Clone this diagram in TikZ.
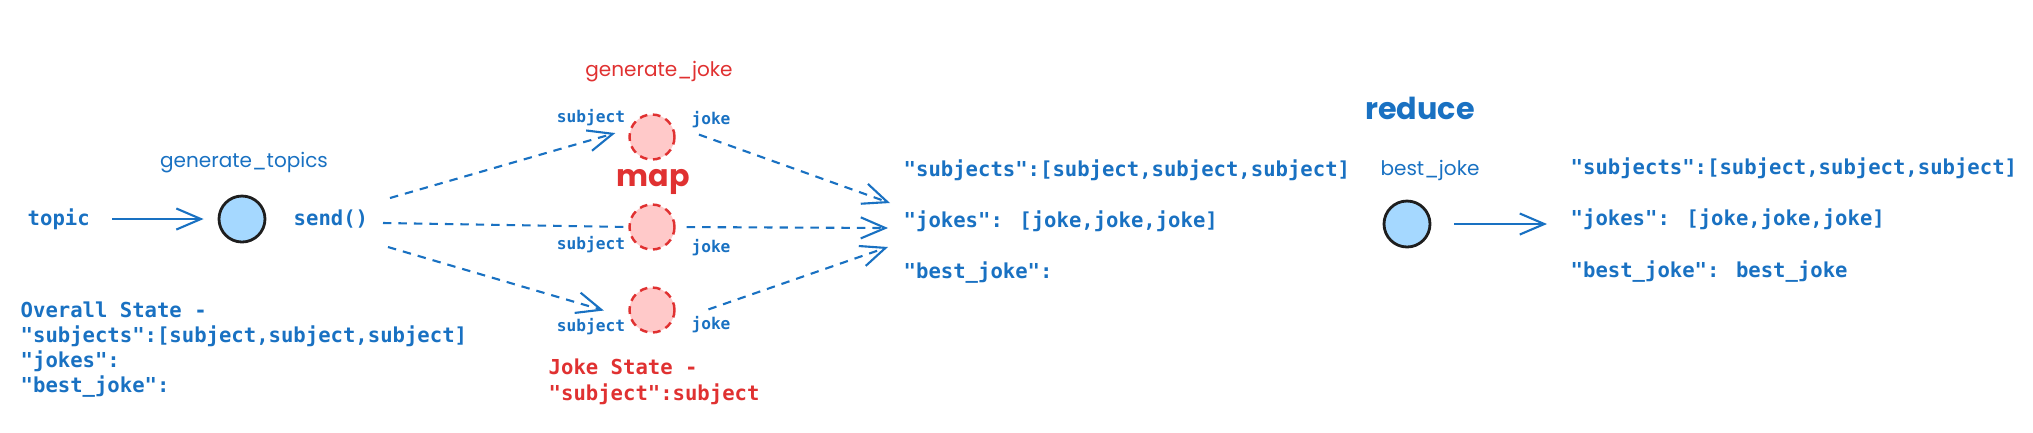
\documentclass[tikz,border=0pt]{standalone}
\usepackage{fontspec}
\newfontfamily\codefont{DejaVu Sans Mono}
\newfontfamily\handfont{Poppins}
\usetikzlibrary{arrows.meta,positioning}
\definecolor{jblue}{HTML}{1971C2}
\definecolor{jred}{HTML}{E03131}
\definecolor{nodefill}{HTML}{A5D8FF}
\definecolor{mapfill}{HTML}{FFC9C9}
\definecolor{ink}{HTML}{1E1E1E}

\begin{document}
\begin{tikzpicture}[
  code/.style={font=\codefont\bfseries\fontsize{5.86}{7.1}\selectfont, text=jblue, inner sep=0pt, anchor=west, align=left},
  tag/.style={font=\codefont\bfseries\fontsize{4.6}{5}\selectfont, text=jblue, inner sep=0pt},
  hand/.style={font=\handfont\fontsize{5.7}{7}\selectfont, inner sep=0pt},
  bighand/.style={font=\handfont\bfseries\fontsize{8.6}{10}\selectfont, inner sep=0pt},
  fn/.style={circle, draw=ink, fill=nodefill, line width=0.8pt, minimum size=0.46cm, inner sep=0pt},
  mapfn/.style={circle, draw=jred, fill=mapfill, line width=0.7pt, dash pattern=on 2.2pt off 1.6pt, minimum size=0.45cm, inner sep=0pt},
  flow/.style={draw=jblue, line width=0.6pt, -{Straight Barb[length=7pt,width=6pt]}},
  dflow/.style={flow, dash pattern=on 2.4pt off 2pt},
]
\useasboundingbox (0,0) rectangle (20.33,-4.32);

% generate topics
\node[code] (topic) at (0.27,-2.19) {topic};
\node[fn] (gen) at (2.42,-2.19) {};
\node[hand, text=jblue] (genlab) at (2.44,-1.63) {generate\_topics};
\node[code] (send) at (2.93,-2.19) {send()};
\draw[flow, shorten <=0.22cm, shorten >=0.14cm] (topic) -- (gen);
\node[code] (overall) at (0.20,-3.50) {Overall State -\\"subjects":[subject,subject,subject]\\"jokes":\\"best\_joke":};

% map step
\foreach \i/\y in {1/-1.37,2/-2.27,3/-3.10}
  \node[mapfn] (m\i) at (6.52,\y) {};
\foreach \i/\ys/\yj in {1/-1.18/-1.20,2/-2.45/-2.48,3/-3.27/-3.25}{
  \node[tag] (subj\i) at (5.91,\ys) {subject};
  \node[tag] (joke\i) at (7.11,\yj) {joke};
}
\node[hand, text=jred] (genjoke) at (6.59,-0.72) {generate\_joke};
\node[bighand, text=jred] (map) at (6.53,-1.82) {map};
\node[code, text=jred] (jstate) at (5.48,-3.815) {Joke State -\\[0.4pt]"subject":subject};

\coordinate (fan1) at (3.90,-1.98);
\coordinate (fan2) at (3.83,-2.23);
\coordinate (fan3) at (3.88,-2.47);
\draw[dflow, shorten >=0.15cm] (fan1) -- (m1.160);
\draw[dflow, -] (fan2) -- (m2.west);
\draw[dflow, shorten >=0.27cm] (fan3) -- (m3.200);

\coordinate (in1) at (8.90,-2.03);
\coordinate (in2) at (8.88,-2.28);
\coordinate (in3) at (8.88,-2.47);
\draw[dflow, shorten <=0.28cm] (m1.30) -- (in1);
\draw[dflow, shorten <=0.11cm] (m2.east) -- (in2);
\draw[dflow, shorten <=0.38cm] (m3.-30) -- (in3);

\node[code] (merged) at (9.03,-2.215) {"subjects":[subject,subject,subject]\\[7.5pt]"jokes": [joke,joke,joke]\\[7.5pt]"best\_joke":};

% reduce step
\node[bighand, text=jblue] (reduce) at (14.20,-1.08) {reduce};
\node[hand, text=jblue] (bestlab) at (14.30,-1.70) {best\_joke};
\node[fn] (red) at (14.07,-2.24) {};
\node[code] (final) at (15.70,-2.20) {"subjects":[subject,subject,subject]\\[7.5pt]"jokes": [joke,joke,joke]\\[7.5pt]"best\_joke": best\_joke};
\draw[flow, shorten <=0.23cm, shorten >=0.23cm] (red) -- (final.west |- red);
\end{tikzpicture}
\end{document}
